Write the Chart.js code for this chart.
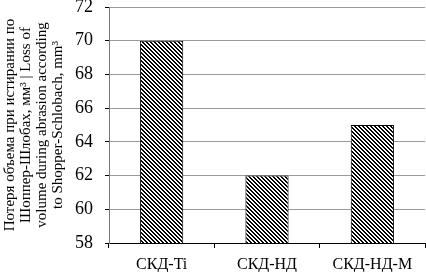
<!DOCTYPE html>
<html>
<head>
<meta charset="utf-8">
<script src="https://cdn.jsdelivr.net/npm/chart.js@4"></script>
<style>
  html, body { margin: 0; padding: 0; background: #fff; }
  #wrap { width: 426px; height: 272px; }
</style>
</head>
<body>
<div id="wrap"><canvas id="lossChart"></canvas></div>
<script>
const categories = ['СКД-Ti', 'СКД-НД', 'СКД-НД-М'];
const lossValues = [70, 62, 65];
const yTicks = [58, 60, 62, 64, 66, 68, 70, 72];

// diagonal hatch like the original print
function hatch() {
  const c = document.createElement('canvas');
  c.width = 4; c.height = 4;
  const g = c.getContext('2d');
  const img = g.createImageData(4, 4);
  for (let y = 0; y < 4; y++) {
    for (let x = 0; x < 4; x++) {
      const d = ((x - y) % 4 + 4) % 4;
      const v = d < 2 ? 0 : 255;
      const i = (y * 4 + x) * 4;
      img.data[i] = img.data[i + 1] = img.data[i + 2] = v;
      img.data[i + 3] = 255;
    }
  }
  g.putImageData(img, 0, 0);
  return g.createPattern(c, 'repeat');
}

const ctx = document.getElementById('lossChart').getContext('2d');
const myChart = new Chart(ctx, {
  type: 'bar',
  data: {
    labels: categories,
    datasets: [{
      data: lossValues,
      backgroundColor: hatch(),
      borderColor: '#000',
      borderWidth: 1,
      barPercentage: 0.41,
      categoryPercentage: 1
    }]
  },
  options: {
    responsive: true,
    maintainAspectRatio: false,
    animation: false,
    layout: { padding: { top: 0, right: 1, bottom: 0, left: 0 } },
    plugins: {
      legend: { display: false },
      tooltip: { enabled: false }
    },
    scales: {
      x: {
        afterFit: axis => { axis.height = 29; },
        grid: { drawOnChartArea: false, color: '#000', tickLength: 5, offset: true },
        border: { color: '#000', width: 1 },
        ticks: {
          color: '#000',
          padding: 9,
          font: { family: 'Liberation Serif', size: 16, lineHeight: 1 }
        }
      },
      y: {
        min: 58,
        max: 72,
        afterBuildTicks: axis => { axis.ticks = yTicks.map(v => ({ value: v })); },
        // keep the axis where the original has it
        afterFit: axis => { axis.width = 109; axis.paddingTop = 7; axis.paddingBottom = 0; },
        grid: { color: '#9a9a9a', tickColor: '#000', tickLength: 4 },
        border: { color: '#777', width: 1 },
        ticks: {
          color: '#000',
          padding: 12,
          font: { family: 'Liberation Serif', size: 18, lineHeight: 0.8 }
        },
        title: {
          display: true,
          text: ['Потеря объема при истирании по', 'Шоппер-Шлобах, мм³ | Loss of',
                 'volume during abrasion according', 'to Shopper-Schlobach, mm³'],
          color: '#000',
          padding: { top: 2, bottom: 0 },
          font: { family: 'Liberation Serif', size: 15, lineHeight: 1.067 }
        }
      }
    }
  }
});
</script>
</body>
</html>
